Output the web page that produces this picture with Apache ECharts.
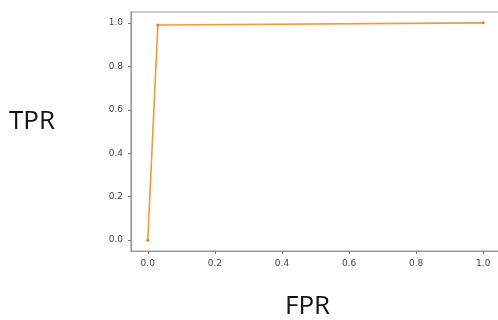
<!DOCTYPE html>
<html><head><meta charset="utf-8">
<script src="https://cdn.jsdelivr.net/npm/echarts@6/dist/echarts.min.js"></script>
<style>html,body{margin:0;padding:0;background:#fff}#c{width:498px;height:320px}</style>
</head><body><div id="c"></div>
<script>
const fpr = [0.0, 0.03, 1.0];
const tpr = [0.0, 0.99, 1.0];
const ticks = [0.0, 0.2, 0.4, 0.6, 0.8, 1.0];
const xName = 'FPR';
const yName = 'TPR';

const chart = echarts.init(document.getElementById('c'), null, {renderer: 'canvas'});
const lblStyle = {color: '#444', fontSize: 9, fontFamily: 'DejaVu Sans', formatter: v => v.toFixed(1)};
chart.setOption({
  animation: false,
  grid: {left: 131, right: -2, top: 12, bottom: 69, show: true, borderColor: '#999', borderWidth: 1.2, outerBoundsMode: 'none', containLabel: false},
  xAxis: {
    type: 'value', min: -0.05, max: 1.05,
    axisLine: {show: true, onZero: false, lineStyle: {color: '#999', width: 1.2}},
    axisTick: {show: true, length: 3, customValues: ticks, lineStyle: {color: '#777'}},
    axisLabel: Object.assign({customValues: ticks, margin: 8}, lblStyle),
    splitLine: {show: false}
  },
  yAxis: {
    type: 'value', min: -0.05, max: 1.05,
    axisLine: {show: true, onZero: false, lineStyle: {color: '#999', width: 1.2}},
    axisTick: {show: true, length: 3, customValues: ticks, lineStyle: {color: '#777'}},
    axisLabel: Object.assign({customValues: ticks, margin: 8}, lblStyle),
    splitLine: {show: false}
  },
  graphic: [
    {type: 'text', left: 9, top: 109, style: {text: yName, fontSize: 26, fontFamily: 'Open Sans', fill: '#111'}},
    {type: 'text', left: 285, top: 294, style: {text: xName, fontSize: 26, fontFamily: 'Open Sans', fill: '#111'}}
  ],
  series: [{
    type: 'line',
    data: fpr.map((x, i) => [x, tpr[i]]),
    symbol: 'circle', symbolSize: 3,
    lineStyle: {color: '#f8963a', width: 1.6},
    itemStyle: {color: '#e8782a'}
  }]
});
</script></body></html>
